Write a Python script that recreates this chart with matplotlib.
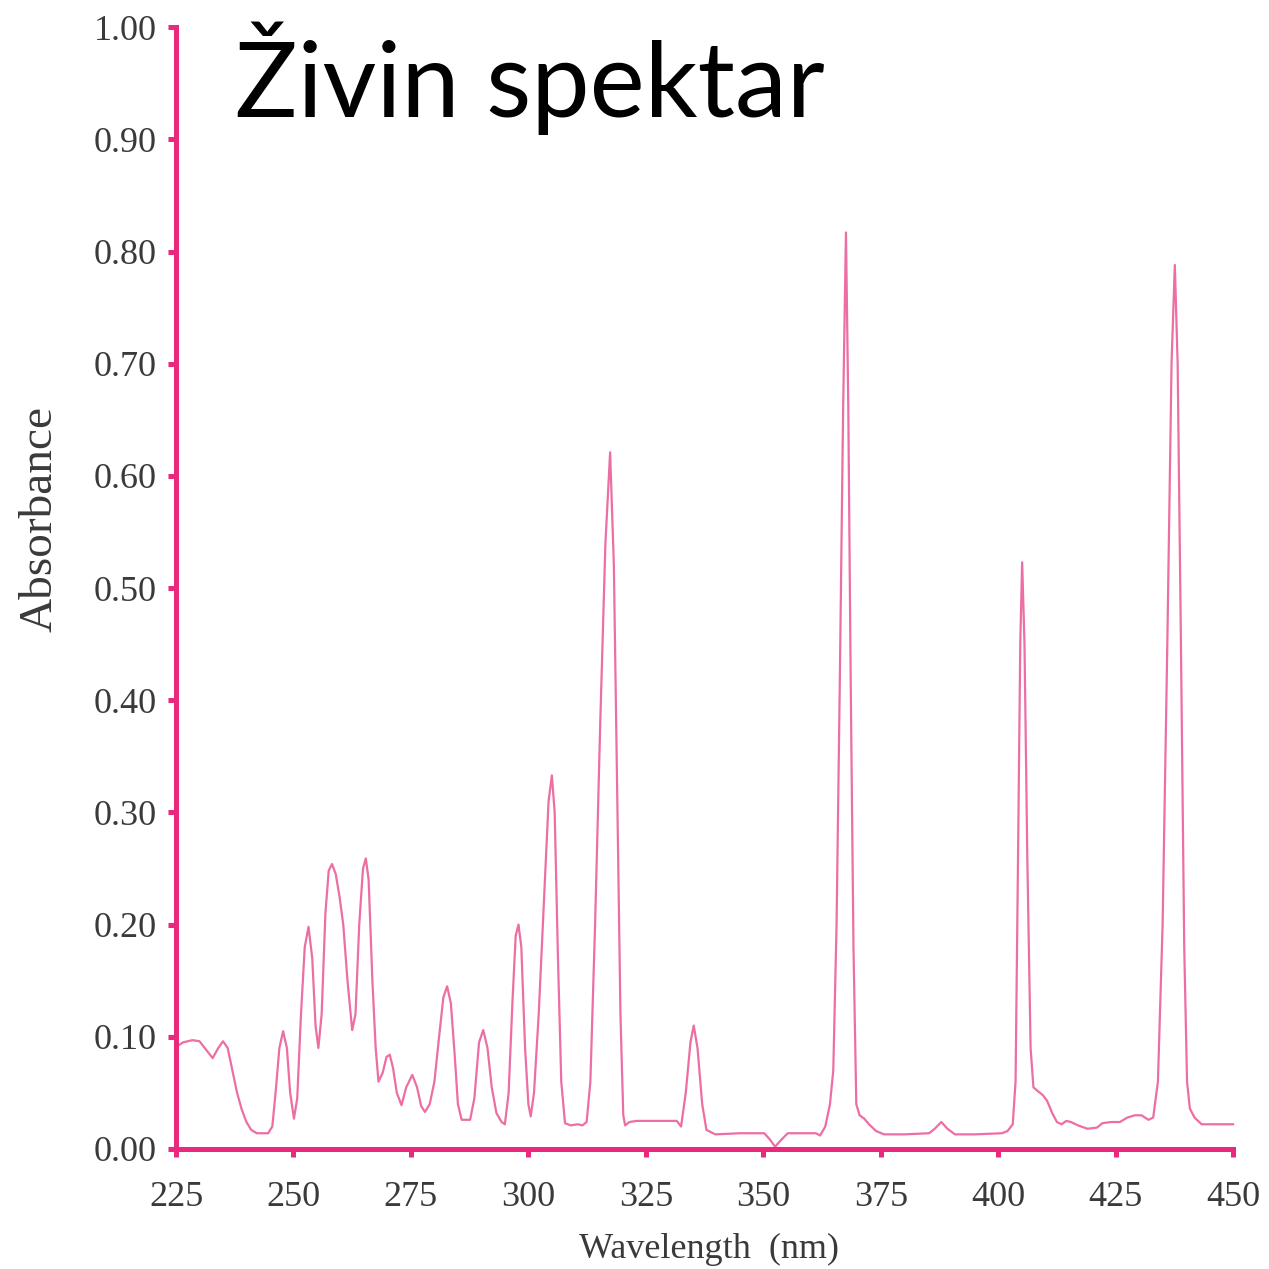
import matplotlib.pyplot as plt

# Hg spectrum, values
talasna_duzina = [225.0, 226.5, 228.5, 230.0, 231.5, 232.8, 234.0, 235.0, 236.0, 237.0,
                  238.0, 239.0, 240.0, 241.0, 242.2, 244.6, 245.5, 246.3, 247.0, 247.8,
                  248.6, 249.3, 250.1, 250.8, 251.6, 252.4, 253.2, 254.0, 254.7, 255.3,
                  256.0, 256.8, 257.5, 258.2, 259.0, 259.8, 260.6, 261.5, 262.5, 263.2,
                  264.0, 264.8, 265.4, 266.0, 266.8, 267.5, 268.1, 269.0, 269.8, 270.5,
                  271.2, 272.0, 273.0, 274.0, 275.3, 276.3, 277.2, 278.0, 279.0, 280.0,
                  281.0, 281.9, 282.7, 283.5, 284.3, 285.0, 285.8, 287.6, 288.5, 289.5,
                  290.4, 291.3, 292.2, 293.2, 294.3, 295.0, 295.8, 296.6, 297.3, 297.9,
                  298.5, 299.3, 300.0, 300.5, 301.2, 302.2, 303.3, 304.3, 305.0, 305.6,
                  306.3, 307.0, 307.8, 309.0, 310.5, 311.5, 312.4, 313.2, 314.2, 315.3,
                  316.4, 317.4, 318.2, 318.9, 319.6, 320.2, 320.6, 321.5, 323.0, 326.0,
                  329.0, 331.6, 332.5, 333.5, 334.5, 335.2, 336.0, 337.0, 337.9, 339.8,
                  345.0, 350.2, 351.5, 352.5, 353.8, 355.2, 358.0, 361.2, 362.1, 363.2,
                  364.2, 364.9, 365.6, 366.3, 367.0, 367.6, 368.1, 368.6, 369.2, 369.8,
                  370.5, 371.5, 372.5, 374.0, 375.7, 380.0, 385.3, 386.5, 387.9, 389.2,
                  390.8, 395.0, 400.8, 402.0, 403.1, 403.7, 404.2, 404.7, 405.1, 405.6,
                  406.2, 406.9, 407.5, 408.3, 409.5, 410.4, 411.5, 412.5, 413.5, 414.5,
                  415.5, 417.0, 419.0, 421.0, 422.2, 424.0, 425.9, 427.5, 429.1, 430.5,
                  432.0, 433.0, 434.0, 435.0, 436.0, 436.9, 437.6, 438.2, 438.9, 439.6,
                  440.2, 440.8, 441.8, 443.3, 446.0, 450.0]
apsorbancija = [0.091, 0.095, 0.097, 0.096, 0.088, 0.081, 0.090, 0.096, 0.090, 0.070,
                0.050, 0.035, 0.024, 0.017, 0.014, 0.014, 0.020, 0.055, 0.090, 0.105,
                0.090, 0.050, 0.027, 0.045, 0.120, 0.180, 0.198, 0.170, 0.110, 0.090,
                0.120, 0.210, 0.248, 0.254, 0.245, 0.225, 0.200, 0.150, 0.106, 0.120,
                0.200, 0.250, 0.259, 0.240, 0.150, 0.090, 0.060, 0.068, 0.082, 0.084,
                0.072, 0.050, 0.039, 0.055, 0.066, 0.055, 0.038, 0.033, 0.040, 0.060,
                0.100, 0.135, 0.145, 0.130, 0.085, 0.040, 0.026, 0.026, 0.045, 0.095,
                0.106, 0.090, 0.055, 0.032, 0.024, 0.022, 0.050, 0.130, 0.190, 0.200,
                0.180, 0.090, 0.040, 0.029, 0.050, 0.120, 0.220, 0.310, 0.333, 0.300,
                0.170, 0.060, 0.023, 0.021, 0.022, 0.021, 0.024, 0.060, 0.200, 0.380,
                0.540, 0.621, 0.520, 0.320, 0.120, 0.030, 0.021, 0.024, 0.025, 0.025,
                0.025, 0.025, 0.020, 0.050, 0.095, 0.110, 0.090, 0.040, 0.017, 0.013,
                0.014, 0.014, 0.008, 0.002, 0.008, 0.014, 0.014, 0.014, 0.012, 0.020,
                0.040, 0.070, 0.200, 0.420, 0.660, 0.817, 0.660, 0.420, 0.180, 0.040,
                0.030, 0.027, 0.022, 0.016, 0.013, 0.013, 0.014, 0.018, 0.024, 0.018,
                0.013, 0.013, 0.014, 0.016, 0.022, 0.060, 0.250, 0.450, 0.523, 0.450,
                0.260, 0.090, 0.055, 0.052, 0.048, 0.043, 0.032, 0.024, 0.022, 0.025,
                0.024, 0.021, 0.018, 0.019, 0.023, 0.024, 0.024, 0.028, 0.030, 0.030,
                0.026, 0.028, 0.060, 0.200, 0.450, 0.700, 0.788, 0.700, 0.450, 0.180,
                0.060, 0.036, 0.028, 0.022, 0.022, 0.022]

x_podjela = [225, 250, 275, 300, 325, 350, 375, 400, 425, 450]
y_podjela = [0.0, 0.1, 0.2, 0.3, 0.4, 0.5, 0.6, 0.7, 0.8, 0.9, 1.0]

osi_boja = '#e8297c'
linija_boja = '#ec6ea2'
tekst_boja = '#3a3a3a'

fig = plt.figure(figsize=(12.69, 12.69), dpi=100)
ax = fig.add_axes([0.1387, 0.0946, 0.833, 0.884])

ax.plot(talasna_duzina, apsorbancija, color=linija_boja, lw=1.6, clip_on=False,
        solid_joinstyle='round')

ax.set_xlim(225, 450)
ax.set_ylim(0, 1.0)
ax.set_xticks(x_podjela)
ax.set_yticks(y_podjela)
ax.set_yticklabels(['%.2f' % v for v in y_podjela])

for s in ['top', 'right']:
    ax.spines[s].set_visible(False)
for s in ['left', 'bottom']:
    ax.spines[s].set_color(osi_boja)
    ax.spines[s].set_linewidth(3.6)

serif = ['Liberation Serif', 'DejaVu Serif']
ax.tick_params(axis='both', direction='out', length=6, width=3.6, color=osi_boja,
               labelcolor=tekst_boja, labelsize=26)
ax.tick_params(axis='x', pad=17)
ax.tick_params(axis='y', pad=8)
for lab in ax.get_xticklabels() + ax.get_yticklabels():
    lab.set_family(serif)

ax.set_xlabel('Wavelength  (nm)', family=serif, fontsize=26, color=tekst_boja)
ax.xaxis.set_label_coords(0.504, -0.075)
ax.set_ylabel('Absorbance', family=serif, fontsize=34, color=tekst_boja)
ax.yaxis.set_label_coords(-0.108, 0.562)

fig.text(0.1855, 0.908, 'Živin spektar', family=['Lato', 'DejaVu Sans'],
         fontsize=75, color='black', ha='left', va='baseline')

plt.savefig('out.png', dpi=100)
